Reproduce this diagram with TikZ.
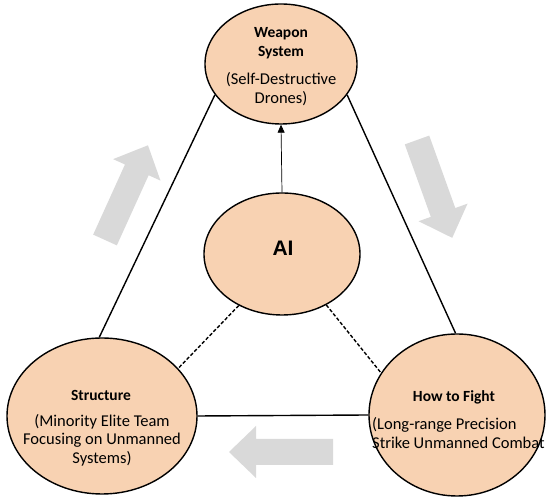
\documentclass[tikz,border=0pt]{standalone}
\usepackage{fontspec}
\setmainfont{Carlito}
\newfontfamily\aifont{Liberation Sans}
\usetikzlibrary{shapes.geometric, arrows.meta, positioning}

\definecolor{peach}{RGB}{248,210,178}
\definecolor{flowgray}{RGB}{217,217,217}

\tikzset{
  blob/.style={ellipse, draw, line width=1.4pt, fill=peach, inner sep=0pt},
  headtext/.style={font=\fontsize{15.5}{19.5}\selectfont\bfseries, inner sep=0pt, align=center},
  bodytext/.style={font=\fontsize{16.5}{18.5}\selectfont, inner sep=0pt, align=center},
  side/.style={line width=1.4pt},
  link/.style={line width=1.4pt, dash pattern=on 3.5pt off 2pt},
  flow/.style={fill=flowgray}
}

\begin{document}
\begin{tikzpicture}[x=1pt,y=1pt]
       \useasboundingbox (0,0) rectangle (550,500);
       \coordinate (W) at (281,436);
       \coordinate (A) at (282,246);
       \coordinate (S) at (102,84);
       \coordinate (F) at (457,85);
       % gray arrows showing the cycle
       \fill[flow,shift={(105,260)},rotate=65.6] (0,-13) -- (77,-13) -- (77,-26) -- (104,0) -- (77,26) -- (77,13) -- (0,13) -- cycle;
       \fill[flow,shift={(417,360)},rotate=-70.2] (0,-13) -- (77,-13) -- (77,-26) -- (104,0) -- (77,26) -- (77,13) -- (0,13) -- cycle;
       \fill[flow,shift={(333,48)},rotate=180] (0,-13) -- (77,-13) -- (77,-26) -- (104,0) -- (77,26) -- (77,13) -- (0,13) -- cycle;
       % the four ellipses
       \node[blob,minimum width=152,minimum height=120] (weapon) at (W) {};
       \node[blob,minimum width=156,minimum height=122] (ai) at (A) {};
       \node[blob,minimum width=190,minimum height=156] (structure) at (S) {};
       \node[blob,minimum width=176,minimum height=162] (fight) at (F) {};
       % triangle and links to AI
       \draw[side] (weapon.205) -- (structure.92);
       \draw[side] (weapon.335) -- (fight.91);
       \draw[side] (structure.east) -- (fight.west);
       \draw[link] (ai.230) -- (structure.32);
       \draw[link] (ai.311) -- (fight.151);
       \draw[line width=0.7pt,-{Triangle[length=8pt,width=7pt]}] (ai.north) -- (weapon.south);
       % texts
       \node[headtext] (weapon-head) at (281,457) {Weapon\\System};
       \node[bodytext] (weapon-note) at (281,411) {(Self-Destructive\\Drones)};
       \node[inner sep=0pt,font=\aifont\fontsize{21}{24}\selectfont\bfseries] (ai-head) at (283,252) {AI};
       \node[headtext] (structure-head) at (101,105) {Structure};
       \node[bodytext] (structure-note) at (102,60) {(Minority Elite Team\\Focusing on Unmanned\\Systems)};
       \node[headtext] (fight-head) at (454,103) {How to Fight};
       \node[bodytext,align=left,anchor=west] (fight-note) at (372,67) {(Long-range Precision\\Strike Unmanned Combat};
     \end{tikzpicture}
\end{document}
